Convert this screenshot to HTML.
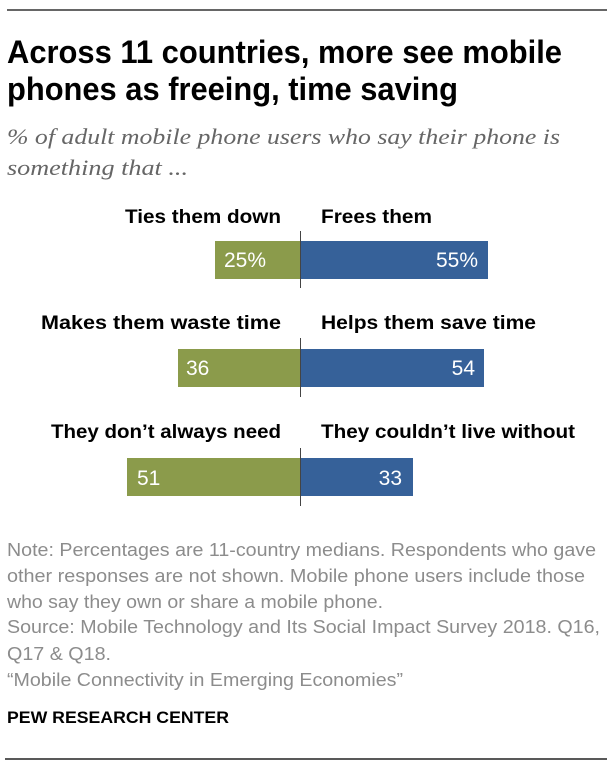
<!DOCTYPE html>
<html>
<head>
<meta charset="utf-8">
<style>
html,body{margin:0;padding:0;background:#fff;}
svg{display:block;}
</style>
</head>
<body>
<svg width="614" height="768" viewBox="0 0 614 768" xmlns="http://www.w3.org/2000/svg">
  <rect width="614" height="768" fill="#fff"/>
  <line x1="7" y1="10" x2="607" y2="10" stroke="#333" stroke-width="1.5"/>

  <g font-family="'Liberation Sans', sans-serif" font-weight="bold" font-size="32" fill="#000">
    <text x="7" y="63" textLength="555" lengthAdjust="spacingAndGlyphs">Across 11 countries, more see mobile</text>
    <text x="7" y="100" textLength="451" lengthAdjust="spacingAndGlyphs">phones as freeing, time saving</text>
  </g>

  <g font-family="'Liberation Serif', serif" font-style="italic" font-size="22" fill="#666">
    <text x="7" y="144" textLength="553" lengthAdjust="spacingAndGlyphs">% of adult mobile phone users who say their phone is</text>
    <text x="7" y="175" textLength="181" lengthAdjust="spacingAndGlyphs">something that ...</text>
  </g>

  <!-- Row labels -->
  <g font-family="'Liberation Sans', sans-serif" font-weight="bold" font-size="19" fill="#000">
    <text x="281" y="223" text-anchor="end" textLength="156" lengthAdjust="spacingAndGlyphs">Ties them down</text>
    <text x="321" y="223" textLength="111" lengthAdjust="spacingAndGlyphs">Frees them</text>
    <text x="281" y="329" text-anchor="end" textLength="240" lengthAdjust="spacingAndGlyphs">Makes them waste time</text>
    <text x="321" y="329" textLength="215" lengthAdjust="spacingAndGlyphs">Helps them save time</text>
    <text x="281" y="438" text-anchor="end" textLength="230" lengthAdjust="spacingAndGlyphs">They don’t always need</text>
    <text x="321" y="438" textLength="254" lengthAdjust="spacingAndGlyphs">They couldn’t live without</text>
  </g>

  <!-- Bars -->
  <rect x="215" y="241" width="85" height="38" fill="#8b9b4b"/>
  <rect x="300" y="241" width="188" height="38" fill="#366199"/>
  <rect x="178" y="349" width="122" height="38" fill="#8b9b4b"/>
  <rect x="300" y="349" width="184" height="38" fill="#366199"/>
  <rect x="127" y="458" width="173" height="38" fill="#8b9b4b"/>
  <rect x="300" y="458" width="113" height="38" fill="#366199"/>

  <!-- axis lines -->
  <g stroke="#444" stroke-width="1">
    <line x1="300.5" y1="231" x2="300.5" y2="288"/>
    <line x1="300.5" y1="338" x2="300.5" y2="397"/>
    <line x1="300.5" y1="448" x2="300.5" y2="506"/>
  </g>

  <!-- Values -->
  <g font-family="'Liberation Sans', sans-serif" font-size="21" fill="#fff">
    <text x="224" y="267">25%</text>
    <text x="478" y="267" text-anchor="end">55%</text>
    <text x="186" y="375">36</text>
    <text x="475" y="375" text-anchor="end">54</text>
    <text x="137" y="485">51</text>
    <text x="402" y="485" text-anchor="end">33</text>
  </g>

  <!-- Footer -->
  <g font-family="'Liberation Sans', sans-serif" font-size="18" fill="#8c8c8c">
    <text x="7" y="556" textLength="589" lengthAdjust="spacingAndGlyphs">Note: Percentages are 11-country medians. Respondents who gave</text>
    <text x="7" y="582" textLength="578" lengthAdjust="spacingAndGlyphs">other responses are not shown. Mobile phone users include those</text>
    <text x="7" y="608" textLength="376" lengthAdjust="spacingAndGlyphs">who say they own or share a mobile phone.</text>
    <text x="7" y="633" textLength="593" lengthAdjust="spacingAndGlyphs">Source: Mobile Technology and Its Social Impact Survey 2018. Q16,</text>
    <text x="7" y="660" textLength="104" lengthAdjust="spacingAndGlyphs">Q17 &amp; Q18.</text>
    <text x="7" y="686" textLength="396" lengthAdjust="spacingAndGlyphs">“Mobile Connectivity in Emerging Economies”</text>
  </g>

  <text x="7" y="723" font-family="'Liberation Sans', sans-serif" font-weight="bold" font-size="17" fill="#000" textLength="222" lengthAdjust="spacingAndGlyphs">PEW RESEARCH CENTER</text>

  <line x1="5" y1="759" x2="607" y2="759" stroke="#222" stroke-width="1.5"/>
</svg>
</body>
</html>
